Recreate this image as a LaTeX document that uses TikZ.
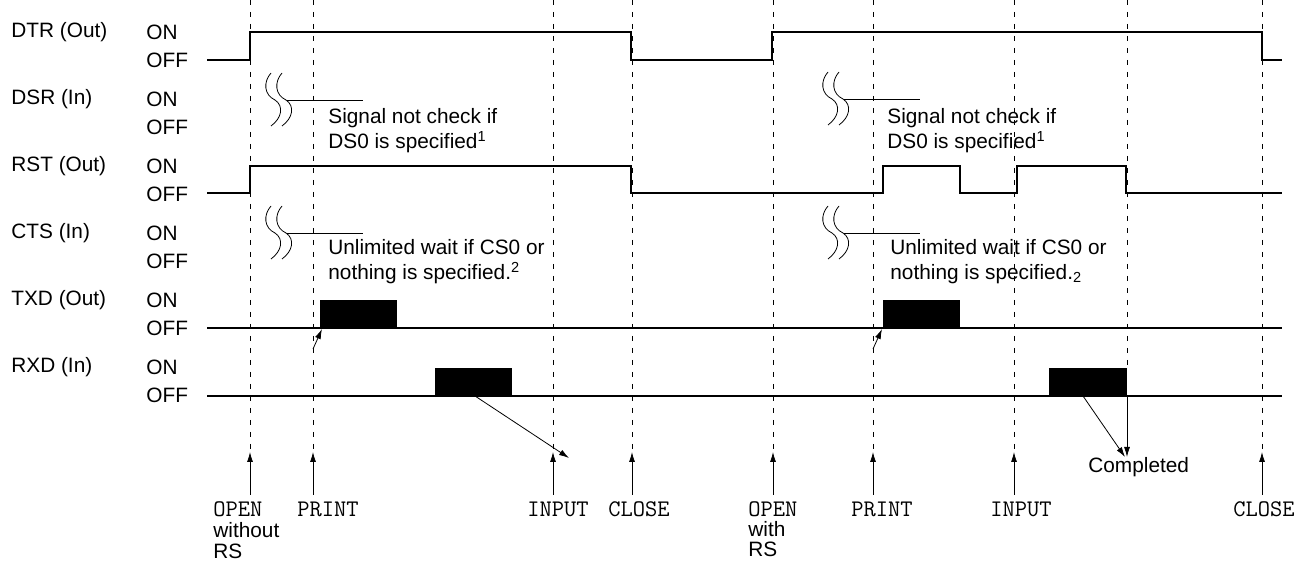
\documentclass[tikz,border=0pt]{standalone}
\usepackage{fontspec}
\setmainfont{Liberation Sans}
\usetikzlibrary{arrows.meta, positioning}

\tikzset{
  squig/.pic={
    \foreach \d in {0,11}
      \draw[thin, shift={(\d,0)}] (-4,-27) .. controls (-12,-18) and (-11,-5) .. (0,0)
        .. controls (9,6) and (7,18) .. (-4,26);
    \draw[thin] (12,0) -- (88,0);
  }
}

\begin{document}
\begin{tikzpicture}[x=0.5pt, y=-0.5pt, >={Latex[length=5pt,width=3pt]},
    font=\fontsize{10.4}{12.5}\selectfont,
    sig/.style={line width=0.65pt},
    guide/.style={line width=0.5pt, dash pattern=on 2.5pt off 3.5pt},
    lbl/.style={anchor=west, inner sep=0pt},
    cmd/.style={anchor=west, inner sep=0pt, font=\fontsize{11.9}{12.5}\selectfont\ttfamily},
    note/.style={anchor=west, inner sep=0pt, align=left}]
  \useasboundingbox (0,0) rectangle (1306,565);

  % row labels
  \foreach \sig/\io [count=\i from 0] in {DTR/Out, DSR/In, RST/Out, CTS/In, TXD/Out, RXD/In} {
    \node[lbl] (name\sig) at (11,{32+67*\i}) {\sig\ (\io)};
    \node[lbl] (on\sig) at (146,{32+67*\i}) {ON};
    \node[lbl] (off\sig) at (146,{60+67*\i}) {OFF};
  }

  % guide lines
  \foreach \x in {250,313,553,632,773,873,1014,1262}
    \draw[guide] (\x,0) -- (\x,452);
  \draw[guide] (1127,0) -- (1127,368);

  % DTR
  \draw[sig] (207,60) -- (250,60) -- (250,32) -- (631,32) -- (631,60) -- (772,60)
    -- (772,32) -- (1262,32) -- (1262,60) -- (1282,60);
  % RST
  \draw[sig] (207,193) -- (250,193) -- (250,166) -- (631,166) -- (631,193) -- (883,193)
    -- (883,166) -- (960,166) -- (960,193) -- (1017,193) -- (1017,166) -- (1126,166)
    -- (1126,193) -- (1282,193);
  % TXD
  \draw[sig] (207,328) -- (1282,328);
  \fill (320,300) rectangle (397,328);
  \fill (883,300) rectangle (960,328);
  % RXD
  \draw[sig] (207,396) -- (1282,396);
  \fill (435,368) rectangle (512,396);
  \fill (1049,368) rectangle (1127,396);

  % breaks on DSR and CTS
  \pic at (275,100) {squig};
  \pic at (832,99) {squig};
  \pic at (275,233) {squig};
  \pic at (832,233) {squig};

  \node[note] (dsrA) at (328,130.5) {Signal not check if\\DS0 is specified\textsuperscript{1}};
  \node[note] (dsrB) at (887,130.5) {Signal not check if\\DS0 is specified\textsuperscript{1}};
  \node[note] (ctsA) at (328,261.5) {Unlimited wait if CS0 or\\nothing is specified.\textsuperscript{2}};
  \node[note] (ctsB) at (890,261.5) {Unlimited wait if CS0 or\\nothing is specified.\textsubscript{2}};

  % transmit start
  \coordinate (txA) at (313,349);
  \coordinate (txB) at (873,349);
  \draw[thin, ->] (txA) -- (322,329);
  \draw[thin, ->] (txB) -- (882,329);

  % receive
  \coordinate (rxA) at (475,396);
  \coordinate (rxB) at (1083,396);
  \coordinate (rxC) at (1127,396);
  \node[lbl] (done) at (1088,467) {Completed};
  \draw[thin, ->] (rxA) -- (569,458);
  \draw[thin, ->] (rxB) -- (1125,457);
  \draw[thin, ->] (rxC) -- (1127,457);

  % commands
  \foreach \x [count=\k] in {250,313,553,632,773,873,1014,1262} {
    \coordinate (evb\k) at (\x,495);
    \coordinate (evt\k) at (\x,452);
    \draw[thin, ->] (evb\k) -- (evt\k);
  }
  \node[cmd] (open1) at (213,509) {OPEN};
  \node[lbl] (wo) at (213,530) {without};
  \node[lbl] (rs1) at (213,551) {RS};
  \node[cmd] (print1) at (297,509) {PRINT};
  \node[cmd] (input1) at (527,509) {INPUT};
  \node[cmd] (close1) at (608,509) {CLOSE};
  \node[cmd] (open2) at (748,509) {OPEN};
  \node[lbl] (wi) at (748,529) {with};
  \node[lbl] (rs2) at (748,549) {RS};
  \node[cmd] (print2) at (851,509) {PRINT};
  \node[cmd] (input2) at (990,509) {INPUT};
  \node[cmd] (close2) at (1233,509) {CLOSE};
\end{tikzpicture}
\end{document}
